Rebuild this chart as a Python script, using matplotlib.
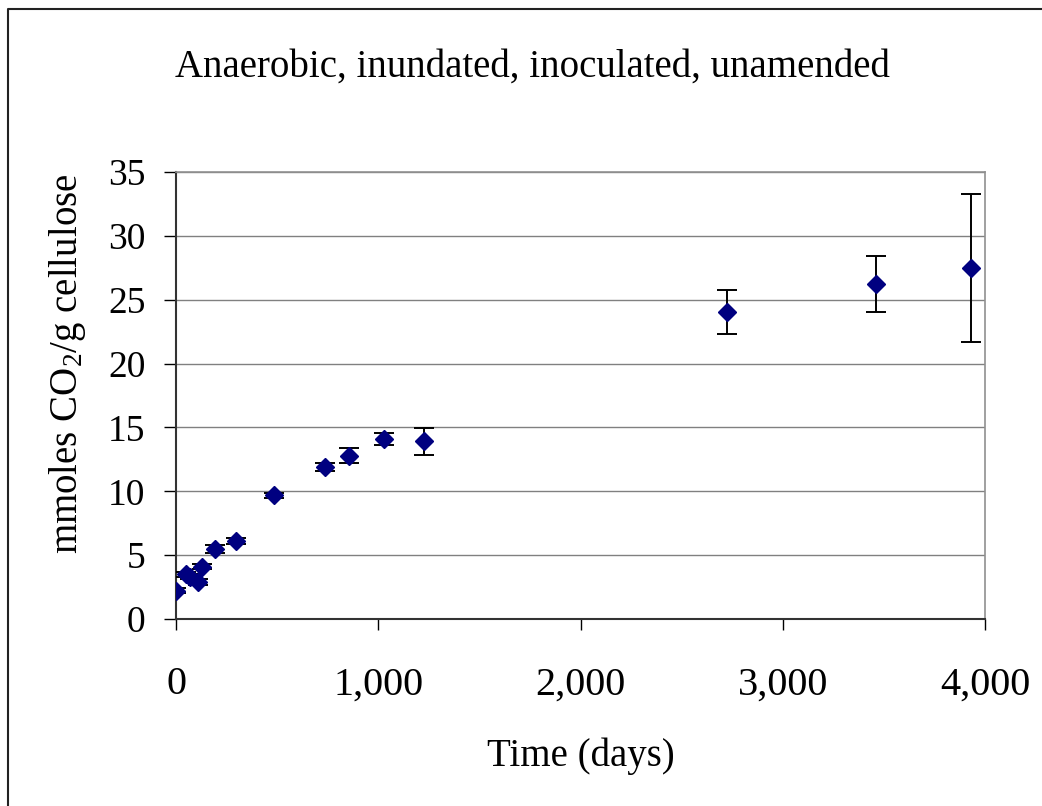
import matplotlib.pyplot as plt
from matplotlib.lines import Line2D
from matplotlib.ticker import FuncFormatter

plt.rcParams['font.family'] = ['Liberation Serif', 'DejaVu Serif']
plt.rcParams['mathtext.fontset'] = 'custom'
plt.rcParams['mathtext.rm'] = 'Liberation Serif'

# data
days = [0, 49, 70, 107, 129, 194, 297, 483, 735, 854, 1030, 1226, 2726, 3461, 3931]
co2 = [2.2, 3.5, 3.3, 2.9, 4.1, 5.5, 6.1, 9.7, 11.9, 12.8, 14.1, 13.9, 24.05, 26.25, 27.5]
err = [0.2, 0.2, 0.2, 0.2, 0.2, 0.33, 0.26, 0.2, 0.34, 0.57, 0.5, 1.03, 1.71, 2.18, 5.78]
xticks = [0, 1000, 2000, 3000, 4000]
yticks = [0, 5, 10, 15, 20, 25, 30, 35]

fig = plt.figure(figsize=(10.42, 8.06), dpi=100)
ax = fig.add_axes([176 / 1042, 1 - 619 / 806, (985 - 176) / 1042, (619 - 172) / 806])

ax.errorbar(days, co2, yerr=err, fmt='D', color='#000080', markersize=9.5,
            ecolor='black', elinewidth=1.4, capsize=7, capthick=1.4, zorder=3)

ax.set_xlim(0, 4000)
ax.set_ylim(0, 35)
ax.set_xticks(xticks)
ax.set_yticks(yticks)
ax.xaxis.set_major_formatter(FuncFormatter(lambda v, p: f'{v:,.0f}'))
ax.yaxis.grid(True, color='#808080', linewidth=1)
ax.set_axisbelow(True)

for s in ['top', 'right']:
    ax.spines[s].set_color('#909090')
    ax.spines[s].set_linewidth(1.2)
for s in ['left', 'bottom']:
    ax.spines[s].set_color('#333333')
    ax.spines[s].set_linewidth(1.5)

ax.tick_params(axis='y', direction='out', length=9, width=1, pad=13, labelsize=27)
ax.tick_params(axis='x', direction='out', length=8, width=1, pad=26, labelsize=29)

ax.set_xlabel('Time (days)', fontsize=28)
ax.xaxis.set_label_coords(0.5, -0.264)
ax.set_ylabel(r'mmoles CO$\mathrm{_2}$/g cellulose', fontsize=28)
ax.yaxis.set_label_coords(-0.109, 0.57)

fig.text(532 / 1042, 1 - 67 / 806, 'Anaerobic, inundated, inoculated, unamended',
         ha='center', va='center', fontsize=28)

# outer chart frame (left and top edges visible)
fig.add_artist(Line2D([8 / 1042, 8 / 1042, 1], [0, 1 - 9 / 806, 1 - 9 / 806],
                      transform=fig.transFigure, color='#222222', linewidth=1.5))

fig.savefig('out.png', dpi=100)
